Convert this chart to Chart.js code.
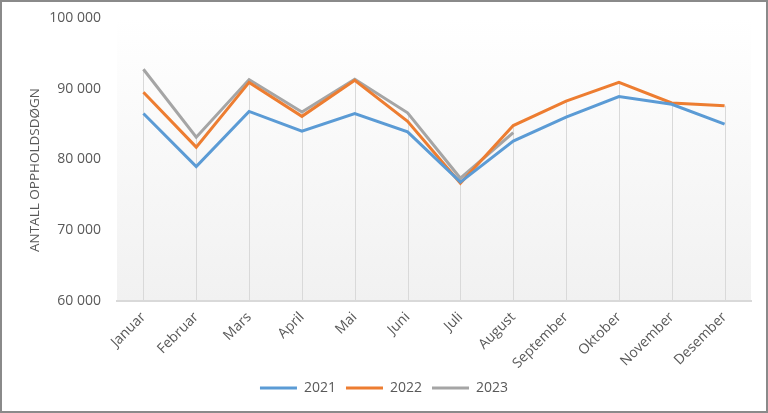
<!DOCTYPE html>
<html>
<head>
<meta charset="utf-8">
<script src="https://cdn.jsdelivr.net/npm/chart.js@4"></script>
<style>
  html, body { margin: 0; padding: 0; background: #fff; }
  #wrap { width: 768px; height: 413px; position: relative; }
</style>
</head>
<body>
<div id="wrap"><canvas id="chart" width="768" height="413"></canvas></div>
<script>
// data
const months = ["Januar", "Februar", "Mars", "April", "Mai", "Juni", "Juli", "August", "September", "Oktober", "November", "Desember"];
const y2021 = [86500, 79000, 86800, 84000, 86500, 83900, 76800, 82600, 86000, 88900, 87800, 85000];
const y2022 = [89500, 81750, 90900, 86100, 91200, 85400, 76650, 84800, 88250, 90900, 88000, 87600];
const y2023 = [92750, 83150, 91300, 86700, 91350, 86600, 77350, 83800, null, null, null, null];

const TEXT = "#595959";
const FONT = "'Open Sans', 'Liberation Sans', sans-serif";

// plot area gradient + outer frame
const frame = {
    id: "frame",
    beforeDraw(chart) {
        const { ctx, chartArea: a } = chart;
        const g = ctx.createLinearGradient(0, a.top, 0, a.bottom);
        g.addColorStop(0, "#ffffff");
        g.addColorStop(1, "#f1f1f1");
        ctx.save();
        ctx.fillStyle = g;
        ctx.fillRect(a.left, a.top, a.right - a.left, a.bottom - a.top);
        ctx.restore();
    },
    afterDraw(chart) {
        const ctx = chart.ctx;
        ctx.save();
        ctx.strokeStyle = "#8a8a8a";
        ctx.lineWidth = 2;
        ctx.strokeRect(1, 1, chart.width - 2, chart.height - 2);
        ctx.restore();
    }
};

// excel style drop lines: from the highest point of each month down to the axis
const dropLines = {
    id: "dropLines",
    beforeDatasetsDraw(chart) {
        const { ctx, scales: { x, y } } = chart;
        ctx.save();
        ctx.strokeStyle = "#d9d9d9";
        ctx.lineWidth = 1;
        months.forEach((m, i) => {
            const vals = [y2021[i], y2022[i], y2023[i]].filter(v => v !== null);
            const top = Math.max(...vals);
            const px = Math.round(x.getPixelForValue(i)) + 0.5;
            ctx.beginPath();
            ctx.moveTo(px, y.getPixelForValue(top));
            ctx.lineTo(px, y.bottom);
            ctx.stroke();
        });
        ctx.restore();
    }
};

function series(label, data, color) {
    return {
        label, data,
        borderColor: color,
        backgroundColor: color,
        borderWidth: 3,
        pointRadius: 0,
        tension: 0,
        spanGaps: false
    };
}

new Chart(document.getElementById("chart"), {
    type: "line",
    data: {
        labels: months,
        datasets: [
            series("2021", y2021, "#5b9bd5"),
            series("2022", y2022, "#ed7d31"),
            series("2023", y2023, "#a5a5a5")
        ]
    },
    options: {
        responsive: false,
        animation: false,
        layout: { padding: { top: 18, right: 0, bottom: 8, left: 0 } },
        plugins: {
            tooltip: { enabled: false },
            legend: {
                position: "bottom",
                labels: {
                    boxWidth: 37,
                    boxHeight: 3,
                    padding: 10,
                    color: TEXT,
                    font: { family: FONT, size: 14 },
                    generateLabels(chart) {
                        return chart.data.datasets.map((d, i) => ({
                            text: d.label,
                            fillStyle: d.borderColor,
                            strokeStyle: d.borderColor,
                            lineWidth: 0,
                            fontColor: TEXT,
                            datasetIndex: i
                        }));
                    }
                }
            }
        },
        scales: {
            x: {
                offset: true,
                grid: { display: false, drawTicks: false },
                border: { display: true, color: "#d9d9d9", width: 2 },
                ticks: {
                    color: TEXT,
                    font: { family: FONT, size: 14 },
                    minRotation: 45,
                    maxRotation: 45,
                    padding: 8
                },
                afterFit(s) { s.height = 70; }
            },
            y: {
                min: 60000,
                max: 100000,
                // invisible tick marks give the gap between labels and plot
                grid: { display: true, drawOnChartArea: false, drawTicks: true, tickLength: 15, color: "rgba(0,0,0,0)" },
                border: { display: false },
                ticks: {
                    stepSize: 10000,
                    padding: 1,
                    color: TEXT,
                    font: { family: FONT, size: 14 },
                    callback: v => String(v).replace(/\B(?=(\d{3})+(?!\d))/g, " ")
                },
                title: {
                    display: true,
                    // trailing spaces push the title a little lower, as in the original
                    text: "ANTALL OPPHOLDSDØGN\u00a0\u00a0\u00a0\u00a0\u00a0\u00a0",
                    color: TEXT,
                    font: { family: FONT, size: 13.5 },
                    padding: { top: 27, bottom: 0 }
                },
                afterFit(s) { s.width = 117; }
            },
            // empty right axis, only keeps a margin so the legend stays centred on the page
            yRight: {
                position: "right",
                display: true,
                grid: { display: false, drawTicks: false },
                border: { display: false },
                ticks: { display: false },
                afterFit(s) { s.width = 17; }
            }
        }
    },
    plugins: [frame, dropLines]
});
</script>
</body>
</html>
